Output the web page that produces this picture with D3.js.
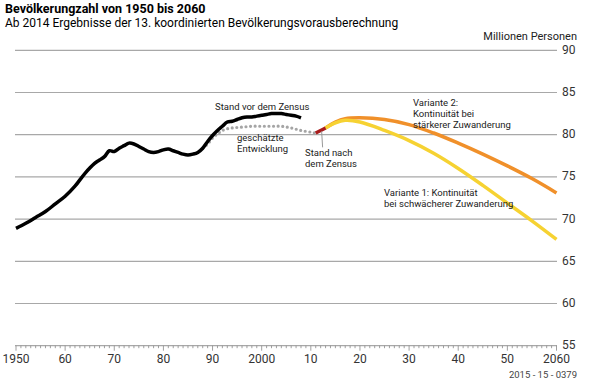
<!DOCTYPE html>
<html>
<head>
<meta charset="utf-8">
<script src="https://cdn.jsdelivr.net/npm/d3@7"></script>
<style>
  body { margin: 0; background: #fff; }
  svg { display: block; font-family: Roboto, "Noto Sans", sans-serif; }
</style>
</head>
<body>
<div id="chart"></div>
<script>
// Bevölkerung vor dem Zensus (Mio.)
var censusYears = [1950, 1952, 1954, 1956, 1958, 1960, 1962, 1964, 1966, 1967, 1968, 1969, 1970, 1971, 1972, 1973, 1974, 1975, 1976, 1977, 1978, 1979, 1980, 1981, 1982, 1983, 1984, 1985, 1986, 1987, 1988, 1989, 1990, 1991, 1992, 1993, 1994, 1995, 1996, 1997, 1998, 1999, 2000, 2001, 2002, 2003, 2004, 2005, 2006, 2007, 2008];
var censusValues = [68.9, 69.5, 70.2, 70.9, 71.8, 72.7, 73.9, 75.4, 76.6, 77.0, 77.4, 78.1, 78.0, 78.4, 78.7, 79.0, 78.9, 78.6, 78.3, 78.0, 77.9, 78.0, 78.2, 78.3, 78.1, 77.9, 77.7, 77.6, 77.7, 77.9, 78.4, 79.2, 79.9, 80.5, 81.0, 81.5, 81.6, 81.8, 82.0, 82.1, 82.1, 82.2, 82.3, 82.4, 82.5, 82.5, 82.5, 82.4, 82.3, 82.2, 82.0];

// geschätzte Entwicklung
var estYears = [1988, 1989, 1990, 1991, 1992, 1993, 1994, 1996, 1998, 2000, 2002, 2004, 2006, 2008, 2010, 2011];
var estValues = [78.4, 78.9, 79.6, 80.1, 80.5, 80.7, 80.8, 80.9, 81.0, 81.0, 81.0, 81.0, 80.8, 80.5, 80.3, 80.2];

// Stand nach dem Zensus
var afterYears = [2011, 2012, 2013];
var afterValues = [80.2, 80.5, 80.8];

// Vorausberechnung
var projYears = [2013, 2015, 2017, 2020, 2025, 2030, 2035, 2040, 2045, 2050, 2055, 2060];
var variant1 = [80.8, 81.4, 81.7, 81.5, 80.5, 79.3, 77.8, 76.0, 74.0, 71.9, 69.8, 67.6];
var variant2 = [80.8, 81.5, 81.9, 82.0, 81.8, 81.2, 80.2, 79.0, 77.7, 76.3, 74.8, 73.1];

var yTicks = [55, 60, 65, 70, 75, 80, 85, 90];
var xTicks = [1950, 1960, 1970, 1980, 1990, 2000, 2010, 2020, 2030, 2040, 2050, 2060];
var xTickLabels = ["1950", "60", "70", "80", "90", "2000", "10", "20", "30", "40", "50", "2060"];

var width = 600, height = 384;

var svg = d3.select("#chart").append("svg")
  .attr("width", width)
  .attr("height", height);

var x = d3.scaleLinear().domain([1950, 2060]).range([16, 556.5]);
var y = d3.scaleLinear().domain([55, 90]).range([345.7, 50.3]);

// title
svg.append("text")
  .attr("x", 5).attr("y", 13)
  .style("font-size", "12.5px").style("font-weight", "bold")
  .text("Bevölkerungzahl von 1950 bis 2060");
svg.append("text")
  .attr("x", 5).attr("y", 27)
  .style("font-size", "12px")
  .text("Ab 2014 Ergebnisse der 13. koordinierten Bevölkerungsvorausberechnung");

// gridlines + y labels
svg.selectAll(".grid")
  .data(yTicks)
  .enter().append("line")
  .attr("x1", 15).attr("x2", 557)
  .attr("y1", function (d) { return y(d); })
  .attr("y2", function (d) { return y(d); })
  .attr("stroke", "#a8a8a8")
  .attr("stroke-width", 1.2);

svg.selectAll(".ylab")
  .data(yTicks)
  .enter().append("text")
  .attr("x", 562)
  .attr("y", function (d) { return y(d) + 3.5; })
  .style("font-size", "12px")
  .style("fill", "#333")
  .text(function (d) { return d; });

svg.append("text")
  .attr("x", 577).attr("y", 40)
  .attr("text-anchor", "end")
  .style("font-size", "11px")
  .style("fill", "#222")
  .text("Millionen Personen");

// x axis
var xAxis = svg.append("g")
  .attr("transform", "translate(0," + y(55) + ")");
xAxis.selectAll(".minor")
  .data(d3.range(1950, 2061))
  .enter().append("line")
  .attr("x1", function (d) { return x(d); })
  .attr("x2", function (d) { return x(d); })
  .attr("y1", 0)
  .attr("y2", function (d) { return d % 10 === 0 ? 5 : 2.5; })
  .attr("stroke", "#888")
  .attr("stroke-width", 0.8);
xAxis.selectAll(".xlab")
  .data(xTicks)
  .enter().append("text")
  .attr("x", function (d) { return x(d); })
  .attr("y", 17.5)
  .attr("text-anchor", "middle")
  .style("font-size", "12px")
  .style("fill", "#333")
  .text(function (d, i) { return xTickLabels[i]; });

svg.append("text")
  .attr("x", 577).attr("y", 378)
  .attr("text-anchor", "end")
  .style("font-size", "9.5px")
  .style("fill", "#444")
  .text("2015 - 15 - 0379");

// lines
function series(years, values) {
  return years.map(function (yr, i) { return { year: yr, value: values[i] }; });
}
var line = d3.line()
  .x(function (d) { return x(d.year); })
  .y(function (d) { return y(d.value); })
  .curve(d3.curveCatmullRom);

svg.append("path")
  .datum(series(estYears, estValues))
  .attr("fill", "none")
  .attr("stroke", "#a5a5a5")
  .attr("stroke-width", 3.2)
  .attr("stroke-linecap", "round")
  .attr("stroke-dasharray", "0 4.6")
  .attr("d", line);

svg.append("path")
  .datum(series(censusYears, censusValues))
  .attr("fill", "none")
  .attr("stroke", "#000")
  .attr("stroke-width", 3.5)
  .attr("stroke-linejoin", "round")
  .attr("d", line);

svg.append("path")
  .datum(series(projYears, variant2))
  .attr("fill", "none")
  .attr("stroke", "#f0902a")
  .attr("stroke-width", 3.5)
  .attr("d", line);

svg.append("path")
  .datum(series(projYears, variant1))
  .attr("fill", "none")
  .attr("stroke", "#f6d232")
  .attr("stroke-width", 3.5)
  .attr("d", line);

svg.append("path")
  .datum(series(afterYears, afterValues))
  .attr("fill", "none")
  .attr("stroke", "#a81c1c")
  .attr("stroke-width", 3.5)
  .attr("d", line);

// leader line
svg.append("line")
  .attr("x1", x(2012.2)).attr("x2", x(2012.4))
  .attr("y1", y(80.4)).attr("y2", y(78.5))
  .attr("stroke", "#999").attr("stroke-width", 1);

// annotations
function note(xp, yp, lines) {
  var t = svg.append("text")
    .attr("x", xp).attr("y", yp)
    .style("font-size", "9.5px")
    .style("fill", "#222");
  lines.forEach(function (s, i) {
    t.append("tspan").attr("x", xp).attr("dy", i === 0 ? 0 : 11).text(s);
  });
}
note(215, 110, ["Stand vor dem Zensus"]);
note(237, 141, ["geschätzte", "Entwicklung"]);
note(305, 156, ["Stand nach", "dem Zensus"]);
note(413, 106, ["Variante 2:", "Kontinuität bei", "stärkerer Zuwanderung"]);
note(384, 196, ["Variante 1: Kontinuität", "bei schwächerer Zuwanderung"]);
</script>
</body>
</html>
